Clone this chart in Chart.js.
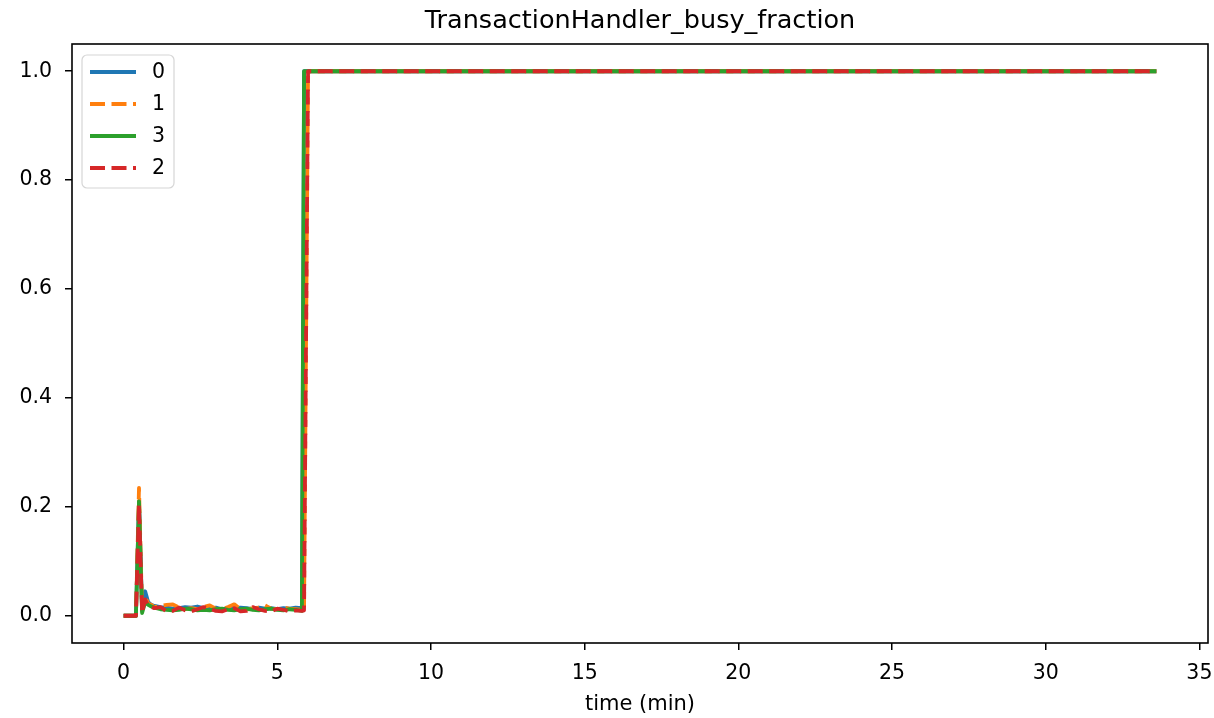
<!DOCTYPE html>
<html>
<head>
<meta charset="utf-8">
<title>TransactionHandler_busy_fraction</title>
<script src="https://cdn.jsdelivr.net/npm/chart.js@4/dist/chart.umd.min.js"></script>
<style>
  html, body { margin: 0; padding: 0; background: #fff; }
  #wrap { width: 1214px; height: 718px; }
</style>
</head>
<body>
<div id="wrap"><canvas id="busyChart" width="1214" height="718"></canvas></div>
<script>
// sample times (min)
const times = [0, 0.1, 0.2, 0.3, 0.4, 0.5, 0.6, 0.7, 0.8, 0.9, 1.0, 1.2, 1.4, 1.6, 1.8, 2.0,
  2.2, 2.4, 2.6, 2.8, 3.0, 3.2, 3.4, 3.6, 3.8, 4.0, 4.2, 4.4, 4.6, 4.8, 5.0, 5.2, 5.4, 5.6,
  5.8, 5.87, 6.0, 10, 15, 20, 25, 30, 33.6];

// busy fraction per handler
const busy0 = [0, 0, 0, 0, 0, 0.21, 0.01, 0.045, 0.025, 0.02, 0.018, 0.016, 0.015, 0.013, 0.014, 0.016,
  0.015, 0.017, 0.014, 0.013, 0.015, 0.012, 0.014, 0.013, 0.015, 0.014, 0.012, 0.015, 0.013, 0.014, 0.012, 0.014, 0.013, 0.015,
  0.014, 1, 1, 1, 1, 1, 1, 1, 1];
const busy1 = [0, 0, 0, 0, 0, 0.235, 0.01, 0.035, 0.022, 0.02, 0.016, 0.018, 0.02, 0.021, 0.015, 0.012,
  0.014, 0.012, 0.016, 0.019, 0.013, 0.012, 0.016, 0.021, 0.012, 0.011, 0.014, 0.015, 0.019, 0.013, 0.012, 0.015, 0.013, 0.012,
  0.011, 0.011, 1, 1, 1, 1, 1, 1, 1];
const busy3 = [0, 0, 0, 0, 0, 0.21, 0.005, 0.025, 0.02, 0.017, 0.015, 0.012, 0.011, 0.01, 0.011, 0.013,
  0.012, 0.01, 0.011, 0.01, 0.012, 0.013, 0.011, 0.01, 0.012, 0.013, 0.011, 0.01, 0.012, 0.013, 0.011, 0.01, 0.012, 0.011,
  0.009, 1, 1, 1, 1, 1, 1, 1, 1];
const busy2 = [0, 0, 0, 0, 0, 0.205, 0.005, 0.03, 0.018, 0.016, 0.014, 0.016, 0.008, 0.009, 0.015, 0.01,
  0.008, 0.012, 0.016, 0.013, 0.009, 0.008, 0.012, 0.014, 0.008, 0.009, 0.016, 0.012, 0.009, 0.008, 0.013, 0.011, 0.008, 0.01,
  0.009, 0.01, 1, 1, 1, 1, 1, 1, 1];

const xTicks = [0, 5, 10, 15, 20, 25, 30, 35];
const yTicks = [0, 0.2, 0.4, 0.6, 0.8, 1.0];

const TITLE = 'TransactionHandler_busy_fraction';
const DASH = [15, 6.5];
const LW = 3.8;

function series(label, values, color, dashed, order) {
  return {
    label: label,
    data: times.map((t, i) => ({ x: t, y: values[i] })),
    borderColor: color,
    backgroundColor: color,
    borderWidth: LW,
    borderDash: dashed ? DASH : [],
    borderCapStyle: 'butt',
    borderJoinStyle: 'round',
    pointRadius: 0,
    pointHoverRadius: 0,
    tension: 0,
    fill: false,
    order: order
  };
}

// box around the axes (spines) + title centred over the plot area
const framePlugin = {
  id: 'frame',
  afterDatasetsDraw(chart) {
    const { ctx, chartArea: a } = chart;
    ctx.save();
    ctx.strokeStyle = '#000';
    ctx.lineWidth = 1.6;
    ctx.strokeRect(a.left, a.top, a.right - a.left, a.bottom - a.top);
    ctx.fillStyle = '#000';
    ctx.font = "25.5px 'DejaVu Sans', sans-serif";
    ctx.textAlign = 'center';
    ctx.textBaseline = 'middle';
    ctx.fillText(TITLE, (a.left + a.right) / 2, 21);
    ctx.restore();
  }
};

// legend in the upper left corner of the plot
const legendPlugin = {
  id: 'innerLegend',
  afterDraw(chart) {
    const { ctx, chartArea: a } = chart;
    const x0 = a.left + 10, y0 = a.top + 11, w = 92, h = 133, r = 5;
    ctx.save();
    ctx.beginPath();
    ctx.roundRect(x0, y0, w, h, r);
    ctx.fillStyle = 'rgba(255,255,255,0.8)';
    ctx.fill();
    ctx.strokeStyle = '#d6d6d6';
    ctx.lineWidth = 1.2;
    ctx.stroke();

    chart.data.datasets.forEach((ds, i) => {
      const y = y0 + 17 + i * 32;
      ctx.beginPath();
      ctx.setLineDash(ds.borderDash);
      ctx.lineWidth = LW;
      ctx.strokeStyle = ds.borderColor;
      ctx.moveTo(x0 + 8, y);
      ctx.lineTo(x0 + 54, y);
      ctx.stroke();
      ctx.setLineDash([]);
      ctx.fillStyle = '#000';
      ctx.font = "20.5px 'DejaVu Sans', sans-serif";
      ctx.textBaseline = 'middle';
      ctx.textAlign = 'left';
      ctx.fillText(ds.label, x0 + 70, y + 1);
    });
    ctx.restore();
  }
};

Chart.defaults.font.family = "'DejaVu Sans', sans-serif";
Chart.defaults.font.size = 20.5;
Chart.defaults.color = '#000';

new Chart(document.getElementById('busyChart'), {
  type: 'line',
  data: {
    datasets: [
      series('0', busy0, '#1f77b4', false, 3),
      series('1', busy1, '#ff7f0e', true, 2),
      series('3', busy3, '#2ca02c', false, 1),
      series('2', busy2, '#d62728', true, 0)
    ]
  },
  options: {
    responsive: false,
    devicePixelRatio: 1,
    animation: false,
    layout: { padding: { left: 0, right: 6, top: 44, bottom: 0 } },
    plugins: {
      legend: { display: false },
      tooltip: { enabled: false },
      title: { display: false }
    },
    scales: {
      x: {
        type: 'linear',
        min: -1.68,
        max: 35.28,
        afterBuildTicks: (s) => { s.ticks = xTicks.map(v => ({ value: v })); },
        afterFit: (s) => { s.height = 75; s.paddingLeft = 0; s.paddingRight = 0; },
        ticks: { padding: 11, autoSkip: false, maxRotation: 0, callback: (v) => String(v) },
        grid: { drawOnChartArea: false, drawTicks: true, tickLength: 7, color: '#000', lineWidth: 1.5 },
        border: { display: false },
        title: { display: true, text: 'time (min)', font: { size: 21 }, padding: { top: 4, bottom: 1 } }
      },
      y: {
        type: 'linear',
        min: -0.05,
        max: 1.05,
        afterBuildTicks: (s) => { s.ticks = yTicks.map(v => ({ value: v })); },
        afterFit: (s) => { s.width = 72; s.paddingTop = 0; s.paddingBottom = 0; },
        ticks: { padding: 13, autoSkip: false, callback: (v) => Number(v).toFixed(1) },
        grid: { drawOnChartArea: false, drawTicks: true, tickLength: 7, color: '#000', lineWidth: 1.5 },
        border: { display: false }
      }
    }
  },
  plugins: [framePlugin, legendPlugin]
});
</script>
</body>
</html>
